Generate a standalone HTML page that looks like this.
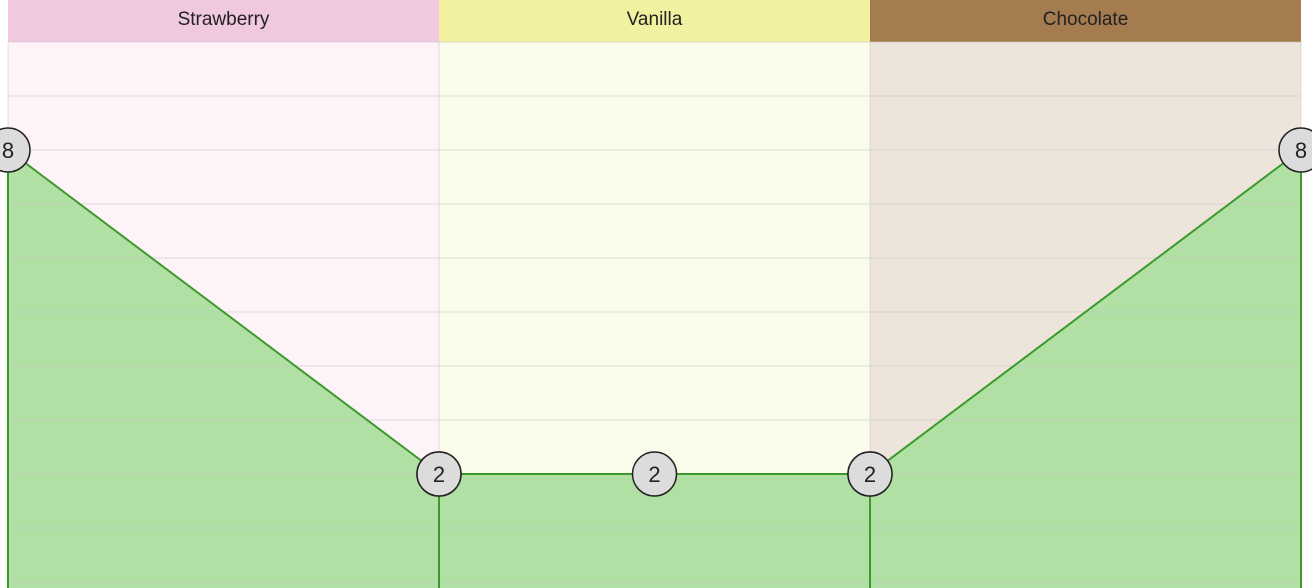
<!DOCTYPE html>
<html><head><meta charset="utf-8"><style>
body{margin:0;background:#fff;}
svg{display:block;font-family:"Liberation Sans",sans-serif;}
</style></head><body>
<svg id="c" width="1312" height="588"></svg>
<script>
const categories=["Strawberry","Vanilla","Chocolate"];
const startValues=[8,2,2];
const midValues=[null,2,null];
const endValues=[2,2,8];
const headerColors=["#f0c9e1","#f2f1a0","#a57b50"];
const bodyColors=["#fdf3f8","#fbfcec","#ede4db"];
const svg=document.getElementById('c');
const NS="http://www.w3.org/2000/svg";
const x0=8,colW=431,plotTop=42,unit=54,yMax=10;
const y=v=>plotTop+(yMax-v)*unit;
function mk(t,a,p){const e=document.createElementNS(NS,t);for(const k in a)e.setAttribute(k,a[k]);(p||svg).appendChild(e);return e;}
categories.forEach((c,i)=>{
  const bx=x0+i*colW;
  const h=mk('rect',{x:bx,y:0,width:colW,height:42,fill:headerColors[i]});
  
  
  const b=mk('rect',{x:bx,y:42,width:colW,height:546,fill:bodyColors[i]});
  
  
  const t=mk('text',{x:bx+colW/2,y:25,'text-anchor':'middle','font-size':19,fill:'#222'});
  t.textContent=c;
  
  
});
const pts=[];
categories.forEach((c,i)=>{
  const bx=x0+i*colW,ex=bx+colW;
  const a=mk('path',{d:`M${bx},588 L${bx},${y(startValues[i])} L${ex},${y(endValues[i])} L${ex},588 Z`,fill:'#b1e0a4',stroke:'none'});
  
  
});
for(let v=0;v<=yMax;v++){
  const l=mk('line',{x1:x0,x2:x0+3*colW,y1:y(v),y2:y(v),stroke:'rgba(200,200,200,0.45)','stroke-width':1.2});
  
  
}
for(let i=0;i<=3;i++){
  const l=mk('line',{x1:x0+i*colW,x2:x0+i*colW,y1:42,y2:588,stroke:'rgba(200,200,200,0.45)','stroke-width':1.2});
  
  
}
categories.forEach((c,i)=>{
  const bx=x0+i*colW,ex=bx+colW;
  const ln=mk('path',{d:`M${bx},588 L${bx},${y(startValues[i])} L${ex},${y(endValues[i])} L${ex},588`,fill:'none',stroke:'#3c9a2c','stroke-width':2});
  
  
  pts.push([bx,startValues[i]]);
  if(midValues[i]!=null)pts.push([bx+colW/2,midValues[i]]);
  pts.push([ex,endValues[i]]);
});
pts.forEach(([px,v])=>{
  const g=mk('g',{});
  
  
  mk('circle',{cx:px,cy:y(v),r:22,fill:'#dcdcdc',stroke:'#222','stroke-width':1.5},g);
  const t=mk('text',{x:px,y:y(v)+8,'text-anchor':'middle','font-size':22,fill:'#222'},g);
  t.textContent=v;
});
</script>
</body></html>
